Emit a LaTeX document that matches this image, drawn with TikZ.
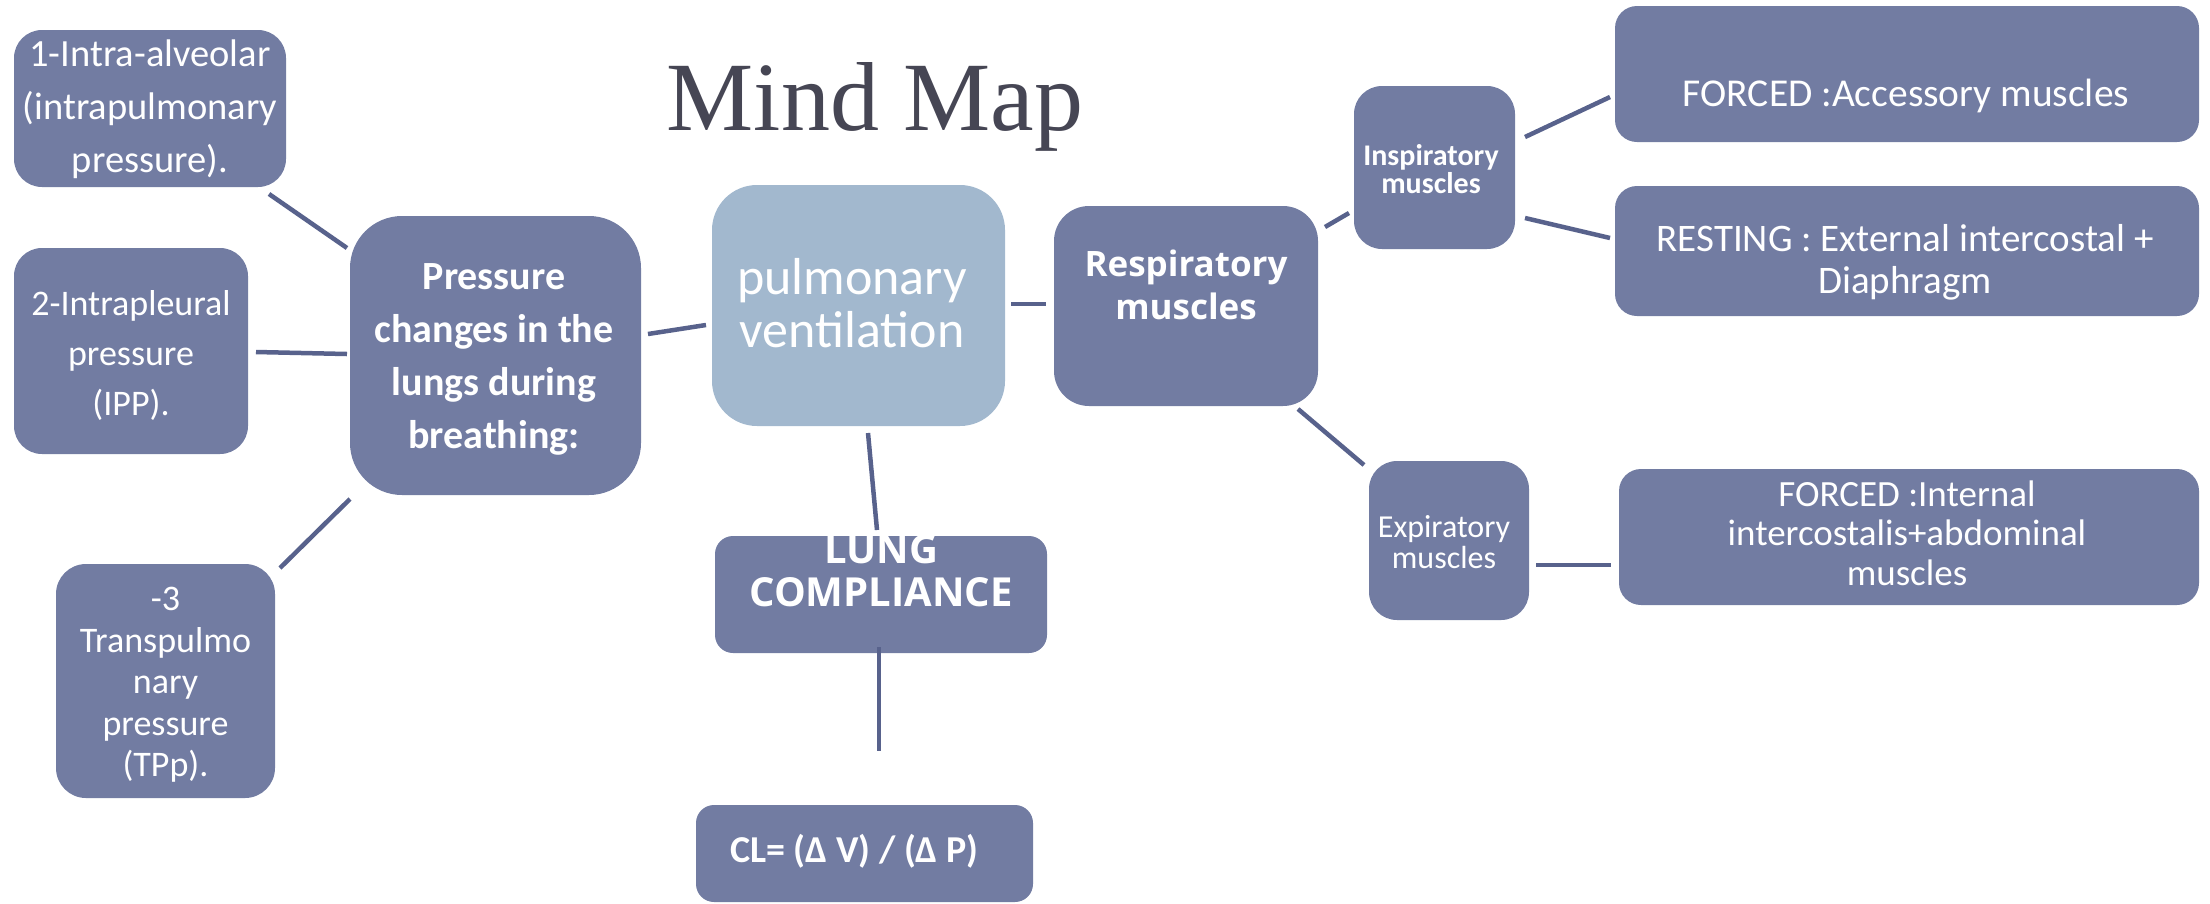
\documentclass[tikz,border=0pt]{standalone}
\usepackage{fontspec}
\newfontfamily\gill{Carlito}
\newfontfamily\osans{Open Sans}
\newfontfamily\tfont{Liberation Serif}
\usetikzlibrary{calc}
\definecolor{boxc}{RGB}{114,124,162}
\definecolor{linec}{RGB}{88,98,140}
\definecolor{lightc}{RGB}{162,184,206}
\definecolor{titlec}{RGB}{70,70,84}
\newcommand\myfs[2]{\fontsize{#1}{#2}\selectfont}
\begin{document}
\begin{tikzpicture}[x=1pt,y=-1pt,
  bx/.style={fill=boxc, draw=none, inner sep=0pt, outer sep=0pt},
  lbl/.style={text=white, align=center, inner sep=0pt},
  conn/.style={draw=linec, line width=4.5pt}]
\useasboundingbox (0,0) rectangle (2210,903);

% title
\node[text=titlec, font=\tfont\myfs{98}{110}, inner sep=0pt, anchor=base] (title) at (875,130) {Mind Map};

% boxes
\node[bx, rounded corners=28pt, minimum width=272pt, minimum height=157pt] (b1) at (150,108.5) {};
\node[bx, rounded corners=28pt, minimum width=234pt, minimum height=206pt] (b2) at (131,351) {};
\node[bx, rounded corners=30pt, minimum width=219pt, minimum height=234pt] (b3) at (165.5,681) {};
\node[bx, rounded corners=52pt, minimum width=291pt, minimum height=279pt] (pres) at (495.5,355.5) {};
\node[bx, fill=lightc, rounded corners=45pt, minimum width=293pt, minimum height=241pt] (pulm) at (858.5,305.5) {};
\node[bx, rounded corners=35pt, minimum width=264pt, minimum height=200pt] (resp) at (1186,306) {};
\node[bx, rounded corners=18pt, minimum width=332pt, minimum height=117pt] (lung) at (881,594.5) {};
\node[bx, rounded corners=18pt, minimum width=337pt, minimum height=97pt] (cl) at (864.5,853.5) {};
\node[bx, rounded corners=28pt, minimum width=161pt, minimum height=163pt] (insp) at (1434.5,167.5) {};
\node[bx, rounded corners=22pt, minimum width=584pt, minimum height=136pt] (forA) at (1907,74) {};
\node[bx, rounded corners=22pt, minimum width=584pt, minimum height=130pt] (rest) at (1907,251) {};
\node[bx, rounded corners=28pt, minimum width=160pt, minimum height=159pt] (exp) at (1449,540.5) {};
\node[bx, rounded corners=22pt, minimum width=580pt, minimum height=136pt] (forI) at (1909,537) {};

% texts
\node[lbl, font=\gill\myfs{38.5}{53}] (t1) at (150,109) {1-Intra-alveolar\\(intrapulmonary\\pressure).};
\node[lbl, font=\gill\myfs{36}{50}] (t2) at (131,355) {2-Intrapleural\\pressure\\(IPP).};
\node[lbl, font=\gill\myfs{36}{41.5}] (t3) at (165.5,685) {-3\\Transpulmo\\nary\\pressure\\(TPp).};
\node[lbl, font=\gill\bfseries\myfs{40}{53}] (tpres) at (494,359) {Pressure\\changes in the\\lungs during\\breathing:};
\node[lbl, font=\gill\myfs{52}{53}] (tpulm) at (852,303) {pulmonary\\ventilation};
\node[lbl, font=\osans\bfseries\myfs{35}{43}] (tresp) at (1186,285) {Respiratory\\muscles};
\node[lbl, font=\osans\bfseries\myfs{40}{43}] (tlung) at (881,570.5) {LUNG\\COMPLIANCE};
\node[lbl, font=\gill\bfseries\myfs{38}{44}, anchor=west] (tcl) at (730,851) {CL= (Δ V) / (Δ P)};
\node[lbl, font=\gill\bfseries\myfs{30}{28}] (tinsp) at (1431,169) {Inspiratory\\muscles};
\node[lbl, font=\gill\myfs{39.5}{44}] (tforA) at (1906,96) {FORCED :Accessory muscles};
\node[lbl, font=\gill\myfs{39}{42}] (trest) at (1905,262) {RESTING : External intercostal +\\Diaphragm};
\node[lbl, font=\gill\myfs{32}{31}] (texp) at (1444,542) {Expiratory\\muscles};
\node[lbl, font=\gill\myfs{37}{39.5}] (tforI) at (1907,533) {FORCED :Internal\\intercostalis+abdominal\\muscles};

% connectors
\coordinate (clend) at (879,751);
\draw[conn] ([shift={(-17,7)}]b1.south east) -- ([shift={(-3,32)}]pres.north west);
\draw[conn] ([shift={(8,1)}]b2.east) -- ([shift={(-3,-1.5)}]pres.west);
\draw[conn] ([shift={(5,4)}]b3.north east) -- ([shift={(0,4)}]pres.south west);
\draw[conn] ([shift={(7,-21.5)}]pres.east) -- ([shift={(-6,19.5)}]pulm.west);
\draw[conn] ([shift={(6,-1.5)}]pulm.east) -- ([shift={(-8,-2)}]resp.west);
\draw[conn] ([shift={(9.5,7)}]pulm.south) -- ([shift={(-4,-6)}]lung.north);
\draw[conn] ([shift={(-2,-6)}]lung.south) -- (clend);
\draw[conn] ([shift={(7,21)}]resp.north east) -- ([shift={(-5,45.5)}]insp.west);
\draw[conn] ([shift={(-20,3)}]resp.south east) -- ([shift={(-5,4)}]exp.north west);
\draw[conn] ([shift={(10,-30.5)}]insp.east) -- ([shift={(-5,23)}]forA.west);
\draw[conn] ([shift={(10,50.5)}]insp.east) -- ([shift={(-5,-13)}]rest.west);
\draw[conn] ([shift={(7,24.5)}]exp.east) -- ([shift={(-8,28)}]forI.west);
\end{tikzpicture}
\end{document}
